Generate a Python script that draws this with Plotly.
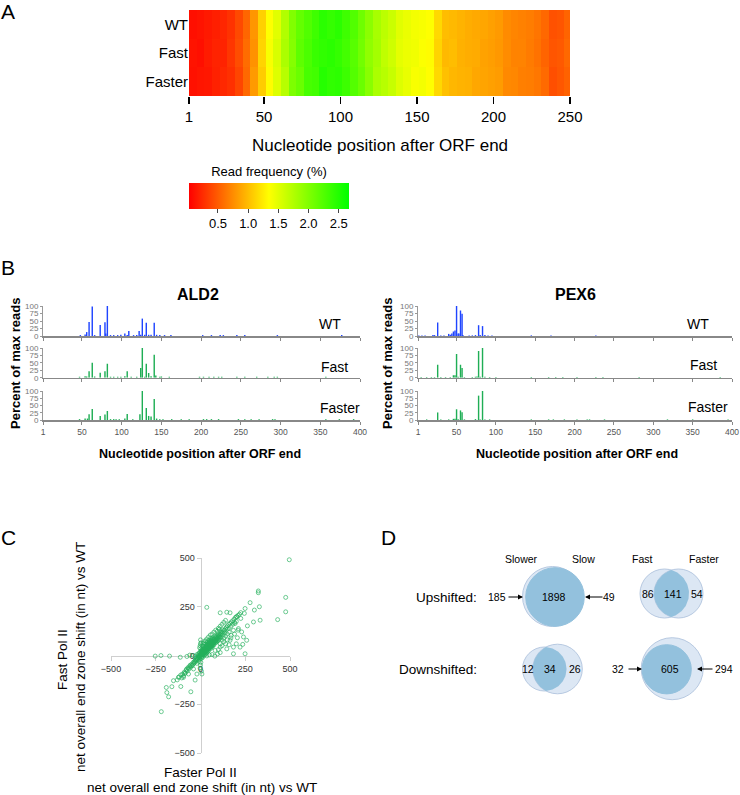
import numpy as np
import plotly.graph_objects as go

W, H = 740, 795
FONT = "Liberation Sans, Arial, sans-serif"

# ---------------- Panel A data: read frequency (%) in 5-nt bins, positions 1-250
rows_A = ["WT", "Fast", "Faster"]
freq_wt = [0.10, 0.12, 0.15, 0.18, 0.22, 0.28, 0.40, 0.55, 0.80, 1.10,
           1.35, 1.50, 1.75, 2.00, 2.15, 2.25, 2.35, 2.45, 2.40, 2.45,
           2.35, 2.25, 2.10, 1.95, 1.80, 1.70, 1.62, 1.50, 1.45, 1.40,
           1.38, 1.35, 1.15, 1.00, 0.98, 0.95, 0.92, 0.90, 0.88, 0.85,
           0.82, 0.74, 0.71, 0.69, 0.67, 0.63, 0.56, 0.44, 0.46, 0.54]
freq_fast = [0.12, 0.10, 0.16, 0.20, 0.20, 0.30, 0.42, 0.58, 0.78, 1.12,
             1.38, 1.55, 1.78, 1.98, 2.18, 2.28, 2.38, 2.42, 2.45, 2.40,
             2.32, 2.22, 2.08, 1.92, 1.82, 1.68, 1.60, 1.48, 1.44, 1.42,
             1.36, 1.33, 1.12, 0.98, 1.00, 0.94, 0.92, 0.91, 0.86, 0.84,
             0.81, 0.75, 0.70, 0.70, 0.66, 0.61, 0.54, 0.46, 0.48, 0.56]
freq_faster = [0.11, 0.13, 0.14, 0.19, 0.23, 0.27, 0.38, 0.56, 0.82, 1.08,
               1.33, 1.52, 1.72, 2.02, 2.12, 2.30, 2.33, 2.48, 2.42, 2.44,
               2.36, 2.24, 2.12, 1.96, 1.78, 1.72, 1.64, 1.52, 1.46, 1.38,
               1.40, 1.34, 1.14, 1.02, 0.97, 0.95, 0.94, 0.89, 0.87, 0.85,
               0.83, 0.73, 0.72, 0.68, 0.67, 0.64, 0.57, 0.43, 0.47, 0.53]
bin_width_A = 5
cbar_ticks = [0.5, 1.0, 1.5, 2.0, 2.5]

# ---------------- Panel B data: percent of max reads per nucleotide position
ald2_wt_pos = [48, 54, 56, 59, 63, 66, 73, 79, 80, 82, 86, 90, 95, 99, 104, 107, 109, 115, 119, 122, 124, 126, 129, 131, 134, 137, 141, 144, 148, 154, 162, 202, 213, 224, 228, 245, 255, 296, 377]
ald2_wt_val = [3, 5, 13, 47, 98, 3, 37, 46, 8, 100, 3, 3, 3, 4, 8, 3, 17, 3, 3, 17, 4, 58, 4, 44, 4, 4, 44, 4, 3, 3, 3, 3, 3, 3, 3, 3, 3, 3, 3]
ald2_fast_pos = [47, 54, 56, 59, 63, 66, 73, 79, 82, 86, 90, 95, 99, 104, 107, 112, 119, 124, 126, 129, 131, 134, 137, 141, 143, 148, 150, 160, 198, 203, 210, 216, 222, 226, 245, 255, 270, 284, 292, 296, 357]
ald2_fast_val = [3, 5, 4, 22, 50, 4, 17, 22, 47, 3, 3, 3, 3, 5, 22, 3, 3, 33, 100, 3, 47, 16, 5, 77, 7, 3, 4, 3, 3, 3, 3, 3, 3, 3, 3, 3, 3, 3, 3, 3, 3]
ald2_faster_pos = [47, 54, 57, 59, 63, 73, 79, 82, 86, 90, 93, 97, 104, 107, 114, 123, 126, 131, 134, 137, 141, 144, 148, 152, 163, 175, 185, 203, 207, 213, 222, 247, 255, 263, 273, 290, 293, 357, 374, 392]
ald2_faster_val = [3, 5, 5, 20, 38, 14, 19, 31, 3, 3, 3, 3, 5, 21, 3, 20, 100, 41, 14, 12, 72, 5, 3, 3, 3, 3, 3, 3, 3, 3, 3, 3, 3, 3, 3, 3, 3, 3, 3, 3]

pex6_wt_pos = [2, 6, 10, 20, 22, 26, 30, 34, 40, 42, 44, 46, 48, 50, 52, 53, 55, 57, 58, 66, 70, 74, 78, 80, 83, 86, 90, 95, 145, 170, 227]
pex6_wt_val = [2, 2, 2, 3, 3, 45, 2, 2, 7, 4, 8, 15, 18, 100, 8, 8, 85, 74, 3, 2, 2, 3, 36, 3, 33, 3, 2, 2, 2, 2, 2]
pex6_fast_pos = [5, 12, 18, 22, 26, 30, 36, 42, 46, 48, 50, 52, 55, 57, 60, 70, 74, 76, 78, 80, 83, 86, 92, 100, 145, 167, 176, 185, 203, 227, 236, 282, 385]
pex6_fast_val = [2, 2, 2, 2, 44, 2, 2, 2, 8, 8, 80, 3, 44, 33, 2, 2, 3, 4, 90, 3, 100, 3, 2, 2, 2, 2, 2, 2, 2, 2, 2, 2, 2]
pex6_faster_pos = [12, 26, 30, 40, 46, 48, 50, 52, 55, 57, 60, 74, 78, 80, 83, 86, 92, 145, 167, 173, 187, 203, 216, 219, 238, 318, 350, 395]
pex6_faster_val = [2, 26, 2, 2, 4, 4, 37, 3, 33, 27, 2, 3, 84, 2, 100, 2, 2, 2, 2, 2, 2, 2, 2, 2, 2, 2, 2, 2]
pos_ticks_B = [1, 50, 100, 150, 200, 250, 300, 350, 400]
pct_ticks_B = [0, 25, 50, 75, 100]

# ---------------- Panel C data: (Faster shift, Fast shift) per gene, nt
shift_pairs = [
    (0, 0), (5, 3), (10, 8), (-5, -2), (3, 10), (8, -4), (15, 12), (20, 18), (12, 20), (25, 22), (30, 28), (22, 30),
    (35, 33), (40, 38), (33, 42), (45, 40), (50, 48), (42, 52), (55, 50), (60, 58), (52, 62), (65, 60), (70, 68),
    (62, 72), (75, 70), (80, 78), (72, 82), (85, 80), (90, 88), (82, 92), (95, 90), (100, 98), (92, 102), (105, 100),
    (110, 108), (102, 112), (115, 110), (120, 118), (112, 122), (125, 120), (130, 128), (122, 132), (135, 130), (140, 138),
    (10, 30), (20, 40), (30, 50), (40, 60), (50, 70), (60, 80), (70, 90), (80, 100), (25, 5), (35, 15), (45, 25),
    (55, 35), (65, 45), (75, 55), (85, 65), (95, 75), (105, 85), (115, 95), (125, 105), (135, 115), (18, 48), (28, 58),
    (38, 68), (48, 78), (58, 88), (5, 25), (15, 35),
    (8, 15), (18, 25), (28, 35), (38, 45), (48, 55), (58, 65), (68, 75), (78, 85), (88, 95), (98, 105), (14, 5), (24, 15),
    (34, 25), (44, 35), (54, 45), (64, 55), (74, 65), (84, 75), (94, 85), (104, 95), (-8, -12), (-18, -22), (-28, -32),
    (-12, -4), (-22, -14), (-5, 15), (5, -15), (-10, -30), (-20, -40), (12, -10), (30, 10), (40, 20), (60, 40), (70, 50),
    (90, 70), (100, 80), (110, 90), (-5, 40), (0, 60), (10, 50), (20, 65), (30, 75),
    (2, 6), (7, 12), (13, 4), (17, 9), (23, 13), (27, 18), (32, 22), (37, 27), (43, 31), (47, 36), (53, 41), (57, 46),
    (63, 51), (67, 56), (73, 61), (77, 66), (83, 71), (87, 76), (4, 18), (9, 22), (16, 28), (21, 33), (26, 39), (31, 44),
    (36, 49), (41, 55), (46, 61), (51, 66), (56, 72), (61, 77), (66, 83), (-3, 4), (-7, -6), (-2, -10), (-12, 2), (6, -8),
    (-16, -18), (-24, -26), (-33, -30), (-38, -42), (-48, -52), (-58, -50), (-68, -66), (-78, -70), (-88, -92),
    (-10, 10), (-20, 5), (-15, -10), (-25, -20), (-30, -25), (-35, -38), (-40, -35), (-45, -50), (-50, -45), (-55, -60),
    (-60, -55), (-65, -70), (-70, -62), (-75, -80), (-80, -75), (-85, -90), (-90, -85), (-100, -95), (-95, -105),
    (-110, -100), (-105, -115), (-120, -110), (-130, -125),
    (0, 20), (2, 35), (-2, 50), (3, 65), (0, 80), (-3, -20), (2, -35), (0, -50), (-2, -65), (5, -80), (8, -95),
    (20, 0), (35, -2), (50, 3), (65, 5), (80, -3), (-40, 0), (-60, 2), (-30, -5), (95, 8), (110, 15),
    (15, 60), (25, 75), (35, 85), (45, 95), (55, 105), (65, 110), (75, 120), (85, 130), (100, 140), (110, 150),
    (120, 160), (130, 170), (140, 180), (95, 125), (105, 135),
    (145, 145), (150, 152), (158, 160), (165, 165), (172, 172), (180, 178), (188, 186), (195, 195), (202, 200),
    (210, 206), (218, 212), (225, 220), (150, 135), (160, 140), (170, 150), (180, 160), (190, 170), (200, 175),
    (140, 100), (150, 110), (160, 120), (130, 90), (120, 80), (110, 60), (130, 70), (150, 80), (170, 90), (190, 110),
    (210, 130), (165, 78), (184, 43), (147, 34), (110, 43), (221, 43), (82, 26), (184, 9), (100, 30), (120, 50),
    (140, 60), (200, 60), (160, 55),
    (496, 491), (323, 331), (323, 322), (476, 298), (476, 224), (431, 184), (333, 181), (329, 250), (277, 271),
    (301, 233), (249, 241), (245, 216), (296, 172), (262, 152), (225, 190), (230, 121), (240, 95), (249, 9), (35, 247),
    (110, 219), (147, 222), (165, 219), (203, 198), (193, 164), (212, 138), (184, 129), (171, 103), (206, 91), (236, 57),
    (258, 78), (-221, 0), (-173, -3), (-253, -3), (-113, -9), (-76, -5), (-219, -288), (-188, -190), (-178, -212),
    (-191, -164), (-160, -160), (-151, -129), (-110, -159), (-54, -186), (-123, -112), (-95, -112), (-67, -95),
    (-30, -126), (-20, -95), (-39, -69),
]
shift_ticks = [-500, -250, 0, 250, 500]

# ---------------- Panel D data: Venn counts (left only, both, right only)
up_slow_counts = [185, 1898, 49]
up_fast_counts = [86, 141, 54]
down_slow_counts = [12, 34, 26]
down_fast_counts = [32, 605, 294]
venn_sets = ["Slower", "Slow", "Fast", "Faster"]
venn_rows = ["Upshifted:", "Downshifted:"]


def fx(px):
    return px / W


def fy(py):
    return 1 - py / H


fig = go.Figure()
annotations = []
shapes = []


def ann(text, px, py, size, bold=False, xanchor="center", yanchor="middle", angle=0, color="black"):
    if bold:
        text = "<b>" + text + "</b>"
    annotations.append(dict(text=text, x=fx(px), y=fy(py), xref="paper", yref="paper", showarrow=False,
                            xanchor=xanchor, yanchor=yanchor, textangle=angle,
                            font=dict(family=FONT, size=size, color=color)))


# ---------------- Panel A
edges = np.arange(1, 251 + bin_width_A, bin_width_A)
fig.add_trace(go.Heatmap(
    z=[freq_faster, freq_fast, freq_wt], x=edges, y=rows_A[::-1],
    zmin=0.02, zmax=2.67,
    colorscale=[[0, "#ff0000"], [0.5, "#ffff00"], [1, "#00ff00"]],
    xaxis="x", yaxis="y", hoverinfo="skip",
    colorbar=dict(orientation="h", x=fx(269), xanchor="center", y=fy(168), yanchor="top",
                  len=160, lenmode="pixels", thickness=26, thicknessmode="pixels",
                  title=dict(text="Read frequency (%)", side="top", font=dict(family=FONT, size=13, color="black")),
                  tickvals=cbar_ticks, ticktext=["%.1f" % t for t in cbar_ticks],
                  ticks="outside", ticklen=4, tickcolor="#444", outlinewidth=0,
                  tickfont=dict(family=FONT, size=13, color="black"), xpad=0, ypad=0),
))
layout = dict(
    xaxis=dict(domain=[fx(189), fx(570)], range=[1, 250], anchor="y", tickvals=[1, 50, 100, 150, 200, 250],
               ticks="outside", ticklen=7, tickwidth=1.5, tickcolor="black", showline=False, showgrid=False,
               zeroline=False, tickfont=dict(family=FONT, size=15, color="black")),
    yaxis=dict(domain=[fy(96), fy(10)], anchor="x", ticks="", showgrid=False, zeroline=False,
               tickfont=dict(family=FONT, size=15, color="black")),
)
ann("Nucleotide position after ORF end", 380, 146, 17)

# ---------------- Panel B
blue, green = "#1f45ff", "#1fae55"
row_tops = [(336, 306), (377.7, 348), (420, 391)]
panels = [
    (43, 360, [(ald2_wt_pos, ald2_wt_val, blue), (ald2_fast_pos, ald2_fast_val, green),
               (ald2_faster_pos, ald2_faster_val, green)]),
    (418, 732, [(pex6_wt_pos, pex6_wt_val, blue), (pex6_fast_pos, pex6_fast_val, green),
                (pex6_faster_pos, pex6_faster_val, green)]),
]
ax_i = 2
for (x0, x1, series) in panels:
    for r, (pos, val, col) in enumerate(series):
        xa, ya = "x%d" % ax_i, "y%d" % ax_i
        fig.add_trace(go.Bar(x=pos, y=val, width=1.8, marker=dict(color=col, line=dict(width=0)),
                             xaxis=xa, yaxis=ya, hoverinfo="skip", showlegend=False))
        b, t = row_tops[r]
        layout["xaxis%d" % ax_i] = dict(domain=[fx(x0), fx(x1)], range=[1, 400], anchor=ya,
                                        tickvals=pos_ticks_B, ticks="outside", ticklen=3, tickcolor="#888",
                                        showline=True, linecolor="#888", linewidth=1.5, showgrid=False,
                                        zeroline=False, showticklabels=(r == 2),
                                        tickfont=dict(family=FONT, size=8.5, color="#555"))
        layout["yaxis%d" % ax_i] = dict(domain=[fy(b), fy(t)], range=[0, 100], anchor=xa,
                                        tickvals=pct_ticks_B, ticks="outside", ticklen=2, tickcolor="#999",
                                        showline=True, linecolor="#999", linewidth=1, showgrid=False,
                                        zeroline=False, tickfont=dict(family=FONT, size=8, color="#777"))
        ax_i += 1

ann("ALD2", 198, 295, 16, bold=True)
ann("PEX6", 575, 295, 16, bold=True)
for lab, px, py in [("WT", 330, 324), ("Fast", 334, 367), ("Faster", 340, 408),
                    ("WT", 698, 324), ("Fast", 703, 365), ("Faster", 708, 407)]:
    ann(lab, px, py, 14)
ann("Percent of max reads", 15, 363, 13, bold=True, angle=-90)
ann("Percent of max reads", 387, 363, 13, bold=True, angle=-90)
ann("Nucleotide position after ORF end", 200, 454, 12.5, bold=True)
ann("Nucleotide position after ORF end", 577, 454, 12.5, bold=True)

# ---------------- Panel C
sx = [p[0] for p in shift_pairs]
sy = [p[1] for p in shift_pairs]
fig.add_trace(go.Scatter(x=sx, y=sy, mode="markers", xaxis="x8", yaxis="y8", hoverinfo="skip",
                         showlegend=False, cliponaxis=False,
                         marker=dict(symbol="circle-open", size=4, color="rgba(35,175,90,0.65)",
                                     line=dict(width=1))))
axC = dict(range=[-500, 500], tickvals=shift_ticks, ticks="outside", ticklen=4, tickcolor="#cfcfcf",
           showline=True, linecolor="#cfcfcf", linewidth=1.5, showgrid=False, zeroline=False,
           layer="below traces", tickfont=dict(family=FONT, size=9, color="#333"), anchor="free")
layout["xaxis8"] = dict(axC, domain=[fx(111), fx(290)], position=fy(655.5))
layout["yaxis8"] = dict(axC, domain=[fy(753), fy(558)], position=fx(200.5))
ann("Fast Pol II", 62, 660, 13.5, angle=-90)
ann("net overall end zone shift (in nt) vs WT", 80, 657, 13.5, angle=-90)
ann("Faster Pol II", 200, 772, 13.5)
ann("net overall end zone shift (in nt) vs WT", 202, 787, 13.5)

# ---------------- Panel D
light_fill, light_line, dark_fill = "#dce7f4", "#b7c9e1", "#93c1dd"
layout["xaxis9"] = dict(domain=[fx(370), 1], range=[370, 740], visible=False, anchor="y9")
layout["yaxis9"] = dict(domain=[fy(710), fy(540)], range=[710, 540], visible=False, anchor="x9")


def circle(cx, cy, r, fill, line):
    shapes.append(dict(type="circle", xref="x9", yref="y9", x0=cx - r, x1=cx + r, y0=cy - r, y1=cy + r,
                       fillcolor=fill, line=dict(color=line, width=1), layer="below"))


def lens(x1, x2, cy, r1, r2):
    d = x2 - x1
    a = (d * d + r1 * r1 - r2 * r2) / (2 * d)
    h = np.sqrt(r1 * r1 - a * a)
    t1 = np.arctan2(h, a)
    t2 = np.arctan2(h, a - d)
    ta = np.linspace(-t1, t1, 60)
    tb = np.linspace(t2, 2 * np.pi - t2, 60)
    xs = np.concatenate([x1 + r1 * np.cos(ta), x2 + r2 * np.cos(tb)])
    ys = np.concatenate([cy + r1 * np.sin(ta), cy + r2 * np.sin(tb)])
    fig.add_trace(go.Scatter(x=xs, y=ys, fill="toself", fillcolor=dark_fill, mode="lines",
                             line=dict(width=0, color=dark_fill), xaxis="x9", yaxis="y9",
                             hoverinfo="skip", showlegend=False))


# upshifted slower/slow
circle(552.5, 596.5, 30, light_fill, light_line)
circle(555, 597, 29.3, dark_fill, dark_fill)
# upshifted fast/faster
circle(664.5, 593.5, 24.5, light_fill, light_line)
circle(678.5, 593.5, 24.5, light_fill, light_line)
lens(664.5, 678.5, 593.5, 24.5, 24.5)
# downshifted slower/slow
circle(544.5, 669, 22, light_fill, light_line)
circle(557.5, 669, 24.8, light_fill, light_line)
lens(544.5, 557.5, 669, 22, 24.8)
# downshifted fast/faster
circle(672.2, 668.7, 31, light_fill, light_line)
circle(666.7, 669.3, 24.6, dark_fill, dark_fill)

for lab, px in zip(venn_sets, [521, 583, 642, 704]):
    ann(lab, px, 559, 10.5)
ann(venn_rows[0], 479, 597, 13.5, xanchor="right")
ann(venn_rows[1], 479, 669, 13.5, xanchor="right")
for cnt, px, py in zip(up_slow_counts, [497, 554, 609], [597] * 3):
    ann(str(cnt), px, py, 10.5)
for cnt, px, py in zip(up_fast_counts, [648, 673, 697], [594] * 3):
    ann(str(cnt), px, py, 10.5)
for cnt, px, py in zip(down_slow_counts, [528, 550, 575], [669] * 3):
    ann(str(cnt), px, py, 10.5)
for cnt, px, py in zip(down_fast_counts, [618, 670, 724], [669] * 3):
    ann(str(cnt), px, py, 10.5)
for (tx, hx, yy) in [(507, 523, 597), (604, 585, 597), (627, 642, 669), (714, 697, 669)]:
    annotations.append(dict(x=hx, y=yy, ax=tx, ay=yy, xref="x9", yref="y9", axref="x9", ayref="y9",
                            text="", showarrow=True, arrowhead=2, arrowsize=1, arrowwidth=1,
                            arrowcolor="black"))

# panel letters
for lab, px, py in [("A", 8, 12), ("B", 8, 268), ("C", 8, 537), ("D", 388, 537)]:
    ann(lab, px, py, 21)

fig.update_layout(width=W, height=H, margin=dict(l=0, r=0, t=0, b=0, autoexpand=False),
                  paper_bgcolor="white", plot_bgcolor="white", showlegend=False,
                  annotations=annotations, shapes=shapes, template="none",
                  font=dict(family=FONT, color="black"), barmode="overlay", **layout)
fig.write_html("out.html", config={"displayModeBar": False, "staticPlot": True},
               post_script="document.body.style.margin='0';document.body.style.overflow='hidden';")
